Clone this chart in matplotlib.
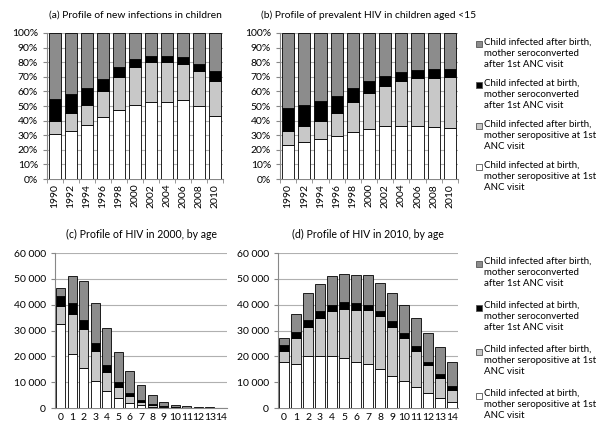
import matplotlib
matplotlib.use("Agg")
import matplotlib.pyplot as plt
from matplotlib.patches import Rectangle
import numpy as np

plt.rcParams['font.family'] = ['Lato', 'DejaVu Sans']

years = ['1990', '1992', '1994', '1996', '1998', '2000', '2002', '2004', '2006', '2008', '2010']
ages = [str(a) for a in range(15)]

# segments bottom-up: at birth/seropositive, after birth/seropositive,
# at birth/seroconverted, after birth/seroconverted
a_birth_pos = [30.5, 33, 37, 42.5, 47.5, 51, 52.5, 53, 54, 50, 43]
a_after_pos = [9.5, 12, 14, 17.5, 22.5, 26, 27.5, 27, 24.5, 24, 24]
a_birth_conv = [15, 13, 11, 8.5, 6.5, 5, 4.5, 4.5, 5, 5, 7]
a_after_conv = [45, 42, 38, 31.5, 23.5, 18, 15.5, 15.5, 16.5, 21, 26]

b_birth_pos = [23.5, 25.5, 27.5, 29.5, 32, 34.5, 36, 36, 36, 35.5, 35]
b_after_pos = [9.5, 11, 12.5, 16, 20.5, 24.5, 28, 31, 33, 34, 35]
b_birth_conv = [15.5, 14, 13.5, 11.5, 9.5, 8, 6.5, 6.5, 5.5, 5.5, 5.5]
b_after_conv = [51.5, 49.5, 46.5, 43, 38, 33, 29.5, 26.5, 25.5, 25, 24.5]

c_birth_pos = [32500, 21000, 15500, 10500, 6500, 3700, 2000, 1000, 500, 300, 100, 50, 20, 10, 10]
c_after_pos = [7000, 15500, 15000, 11500, 7500, 4600, 2500, 1300, 700, 300, 200, 50, 30, 20, 10]
c_birth_conv = [4000, 4000, 3500, 3000, 2500, 1700, 1200, 700, 400, 200, 100, 50, 20, 10, 10]
c_after_conv = [3000, 10500, 15000, 15500, 14500, 11800, 8600, 5800, 3300, 1600, 800, 450, 230, 160, 120]

d_birth_pos = [18000, 17000, 20000, 20000, 20000, 19500, 18000, 17000, 15000, 12500, 10500, 8000, 6000, 4000, 2500]
d_after_pos = [4000, 10000, 11500, 15000, 17500, 19000, 20000, 21000, 20500, 19000, 16500, 14000, 10500, 7500, 4500]
d_birth_conv = [2500, 2500, 2500, 2500, 2500, 2500, 2500, 2000, 2000, 2000, 2000, 2000, 1500, 1500, 1500]
d_after_conv = [2500, 7000, 10500, 10500, 11000, 11000, 11000, 11500, 11000, 11000, 11000, 11000, 11000, 10500, 9500]

labels = ['Child infected after birth,\nmother seroconverted\nafter 1st ANC visit',
          'Child infected at birth,\nmother seroconverted\nafter 1st ANC visit',
          'Child infected after birth,\nmother seropositive at 1st\nANC visit',
          'Child infected at birth,\nmother seropositive at 1st\nANC visit']
colors = ['white', '#c8c8c8', 'black', '#8c8c8c']  # bottom-up

W, H = 602, 436
fig = plt.figure(figsize=(W / 100, H / 100), dpi=100)


def px_axes(left, right, top, bottom):
    return fig.add_axes([left / W, 1 - bottom / H, (right - left) / W, (bottom - top) / H])


def stacked(ax, cats, series, width):
    x = np.arange(len(cats))
    base = np.zeros(len(cats))
    for vals, col in zip(series, colors):
        ax.bar(x, vals, width, bottom=base, color=col, edgecolor='black', linewidth=0.6, zorder=3)
        base += np.array(vals)
    ax.set_xlim(-0.5, len(cats) - 0.5)
    ax.set_xticks(x)
    ax.set_xticks(np.arange(len(cats) + 1) - 0.5, minor=True)
    ax.tick_params(axis='x', which='major', length=0, labelsize=7.5)
    ax.tick_params(axis='x', which='minor', length=3, color='#888888')
    ax.tick_params(axis='y', length=3, color='#888888', labelsize=7.5)
    for s in ['top', 'right']:
        ax.spines[s].set_visible(False)
    for s in ['left', 'bottom']:
        ax.spines[s].set_color('#888888')
    ax.yaxis.grid(True, color='#b0b0b0', linewidth=0.8, zorder=0)
    ax.set_axisbelow(True)


def pct_panel(ax, series, title):
    stacked(ax, years, series, 0.75)
    ax.set_ylim(0, 100)
    ax.set_yticks(range(0, 101, 10))
    ax.set_yticklabels([f'{v}%' for v in range(0, 101, 10)])
    ax.set_xticklabels(years, rotation=90)
    ax.set_title(title, fontsize=7.4, pad=11)


def age_panel(ax, series, title):
    stacked(ax, ages, series, 0.78)
    ax.set_ylim(0, 60000)
    ax.set_yticks(range(0, 60001, 10000))
    ax.set_yticklabels([f'{v:,}'.replace(',', ' ') for v in range(0, 60001, 10000)])
    ax.set_xticklabels(ages)
    ax.tick_params(axis='x', which='minor', length=0)
    ax.set_title(title, fontsize=7.6, pad=11)


ax_a = px_axes(47, 223, 33, 179)
pct_panel(ax_a, [a_birth_pos, a_after_pos, a_birth_conv, a_after_conv],
          '(a) Profile of new infections in children')

ax_b = px_axes(280, 458, 33, 179)
pct_panel(ax_b, [b_birth_pos, b_after_pos, b_birth_conv, b_after_conv],
          '(b) Profile of prevalent HIV in children aged <15')

ax_c = px_axes(55, 227, 253, 408)
age_panel(ax_c, [c_birth_pos, c_after_pos, c_birth_conv, c_after_conv],
          '(c) Profile of HIV in 2000, by age')

ax_d = px_axes(278, 458, 253, 408)
age_panel(ax_d, [d_birth_pos, d_after_pos, d_birth_conv, d_after_conv],
          '(d) Profile of HIV in 2010, by age')

# hand-built legends, square aligned with first text line
for starts, step in [(38, 41), (257, 44)]:
    for i, (lab, col) in enumerate(zip(labels, colors[::-1])):
        y = starts + i * step
        fig.patches.append(Rectangle((476 / W, 1 - (y + 9.5) / H), 6 / W, 6 / H,
                                     transform=fig.transFigure, facecolor=col,
                                     edgecolor='#555555', linewidth=0.6))
        fig.text(484 / W, 1 - y / H, lab, fontsize=7, va='top', ha='left', linespacing=1.3)

fig.savefig('out.png', dpi=100)
